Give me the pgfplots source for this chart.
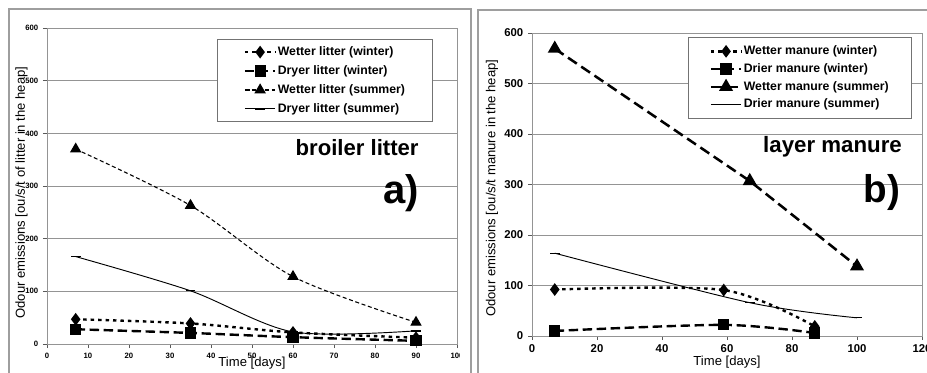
\documentclass[border=0pt]{standalone}
\usepackage{pgfplots}
\pgfplotsset{compat=1.18}
\usepackage{fontspec}
\setmainfont{Liberation Sans}
\definecolor{framegray}{gray}{0.62}
\definecolor{gridgray}{gray}{0.58}
\pgfplotsset{
  common/.style={
    scale only axis,
    axis line style={gridgray, line width=0.7pt},
    ymin=0, ymax=600, ytick={0,100,...,600},
    ymajorgrids, grid style={gridgray, line width=0.6pt},
    tick pos=left, tick align=outside, major tick length=3pt,
    tick style={black!65, line width=0.6pt},
    /pgf/number format/assume math mode=true,
    /pgf/number format/1000 sep={},
    label style={font=\fontsize{9.8}{11}\selectfont},
    legend cell align=left,
    legend style={draw=black!55, line width=0.6pt, font=\fontsize{9.2}{11}\bfseries,
      nodes={inner xsep=1pt, inner ysep=0pt, text height=7pt, text depth=2pt}},
    legend image code/.code={\draw[mark repeat=2,mark phase=2] plot coordinates {(0cm,0cm) (0.4cm,0cm) (0.8cm,0cm)};},
  },
  wwin/.style={black, line width=1.8pt, dash pattern=on 2.6pt off 3pt, mark=diamond*, mark size=3.3pt, mark options={solid}},
  dwin/.style={black, line width=1.8pt, dash pattern=on 7pt off 3.5pt, mark=square*, mark size=3.3pt, mark options={solid}},
  dsum/.style={black, line width=0.7pt, solid, mark=-, mark size=3.6pt, mark options={solid, line width=1pt}},
}
\begin{document}
\begin{tikzpicture}
\useasboundingbox (0,0) rectangle (695.25pt,279pt);
\draw[framegray, line width=0.8pt] (6.75pt,-10pt) rectangle (353.25pt,272.25pt);
\draw[framegray, line width=0.8pt] (358.5pt,-10pt) rectangle (710pt,271.5pt);
\begin{scope}
\clip (6.75pt,-10pt) rectangle (344.5pt,280pt);
\begin{axis}[common,
  at={(35.25pt,21pt)}, anchor=south west,
  width=307.5pt, height=237pt,
  xmin=0, xmax=100, xtick={0,10,...,100},
  ticklabel style={font=\fontsize{5.8}{7}\bfseries},
  xlabel={Time [days]},
  xlabel style={at={(axis description cs:0.5,0)}, anchor=center, yshift=-14.25pt},
  ylabel={Odour emissions [ou/s/t of litter in the heap]},
  ylabel style={at={(axis description cs:-0.0622,0.479)}, anchor=center},
  legend style={at={(0.941,0.965)}, anchor=north east, inner xsep=19.5pt, inner ysep=5pt, row sep=5.2pt},
]
\addplot[wwin, smooth] coordinates {(7,47) (35,39) (60,22) (90,12)};
\addlegendentry{Wetter litter (winter)}
\addplot[dwin, smooth] coordinates {(7,28) (35,21) (60,13) (90,6)};
\addlegendentry{Dryer litter (winter)}
\addplot[black, line width=0.8pt, dash pattern=on 3pt off 2pt, smooth, mark=triangle*, mark size=4.2pt, mark options={solid}] coordinates {(7,370) (35,263) (60,128) (90,41)};
\addlegendentry{Wetter litter (summer)}
\addplot[dsum, smooth] coordinates {(7,166) (35,101) (60,23) (90,25)};
\addlegendentry{Dryer litter (summer)}
\node[anchor=east, inner sep=0pt, font=\fontsize{16.6}{18}\bfseries] at (rel axis cs:0.907,0.620) {broiler litter};
\node[anchor=east, inner sep=0pt, font=\fontsize{30}{32}\bfseries] at (rel axis cs:0.907,0.478) {a)};
\end{axis}
\end{scope}
\begin{axis}[common,
  at={(399pt,27pt)}, anchor=south west,
  width=292.5pt, height=227.25pt,
  xmin=0, xmax=120, xtick={0,20,...,120},
  ticklabel style={font=\fontsize{8.5}{10}\bfseries},
  xlabel={Time [days]},
  xlabel style={at={(axis description cs:0.5,0)}, anchor=center, yshift=-19.5pt},
  ylabel={Odour emissions [ou/s/t manure in the heap]},
  ylabel style={at={(axis description cs:-0.1026,0.488)}, anchor=center},
  legend style={at={(0.974,0.987)}, anchor=north east, inner xsep=16pt, inner ysep=6pt, row sep=4.3pt},
]
\addplot[wwin, smooth] coordinates {(7,92) (59,91) (87,19)};
\addlegendentry{Wetter manure (winter)}
\addplot[dwin, smooth] coordinates {(7,10) (59,22) (87,6)};
\addlegendentry{Drier manure (winter)}
\addplot[black, line width=1.9pt, dash pattern=on 8pt off 4pt, mark=triangle*, mark size=4.2pt, mark options={solid}] coordinates {(7,569) (67,307) (100,138)};
\addlegendentry{Wetter manure (summer)}
\addplot[dsum, smooth] coordinates {(7,164) (67,66) (100,36)};
\addlegendentry{Drier manure (summer)}
\node[anchor=east, inner sep=0pt, font=\fontsize{16.7}{18}\bfseries] at (rel axis cs:0.949,0.624) {layer manure};
\node[anchor=east, inner sep=0pt, font=\fontsize{29}{31}\bfseries] at (rel axis cs:0.944,0.472) {b)};
\end{axis}
\end{tikzpicture}
\end{document}
